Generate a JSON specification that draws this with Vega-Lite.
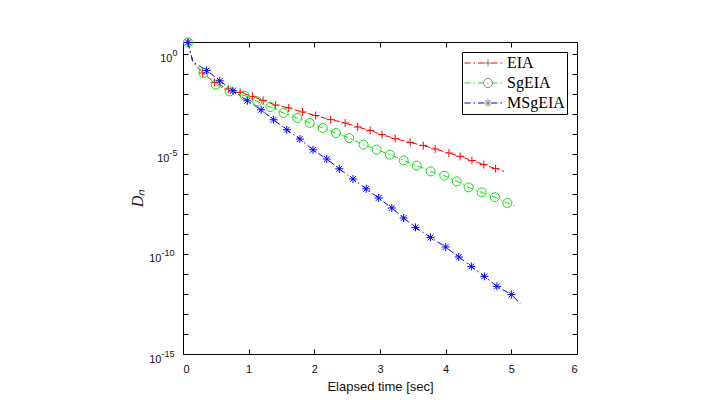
{
  "$schema": "https://vega.github.io/schema/vega-lite/v6.json",
  "width": 394,
  "height": 312,
  "autosize": {"type": "none"},
  "padding": {"left": 183, "top": 42, "right": 140, "bottom": 46},
  "background": "white",
  "config": {
    "view": {"stroke": "black", "strokeWidth": 1},
    "axis": {
      "domain": false,
      "ticks": false,
      "labelColor": "#111",
      "labelFont": "Liberation Sans",
      "labelFontSize": 11,
      "labelOverlap": false,
      "titleFont": "Liberation Sans",
      "titleFontWeight": "normal",
      "titleFontSize": 13,
      "titleColor": "#111"
    }
  },
  "data": {
    "values": [
      {"s": "EIA", "t": 0.076, "D": 3.8, "m": 1},
      {"s": "EIA", "t": 0.15, "D": 0.398, "m": 0},
      {"s": "EIA", "t": 0.30, "D": 0.112, "m": 1},
      {"s": "EIA", "t": 0.48, "D": 0.038, "m": 1},
      {"s": "EIA", "t": 0.69, "D": 0.0178, "m": 1},
      {"s": "EIA", "t": 0.87, "D": 0.0120, "m": 1},
      {"s": "EIA", "t": 1.06, "D": 0.00759, "m": 1},
      {"s": "EIA", "t": 1.22, "D": 0.00479, "m": 1},
      {"s": "EIA", "t": 1.41, "D": 0.00282, "m": 1},
      {"s": "EIA", "t": 1.61, "D": 0.00200, "m": 1},
      {"s": "EIA", "t": 1.82, "D": 0.00126, "m": 1},
      {"s": "EIA", "t": 2.02, "D": 8.32e-4, "m": 1},
      {"s": "EIA", "t": 2.25, "D": 5.25e-4, "m": 1},
      {"s": "EIA", "t": 2.47, "D": 3.55e-4, "m": 1},
      {"s": "EIA", "t": 2.66, "D": 2.24e-4, "m": 1},
      {"s": "EIA", "t": 2.85, "D": 1.51e-4, "m": 1},
      {"s": "EIA", "t": 3.03, "D": 9.33e-5, "m": 1},
      {"s": "EIA", "t": 3.23, "D": 5.89e-5, "m": 1},
      {"s": "EIA", "t": 3.46, "D": 3.80e-5, "m": 1},
      {"s": "EIA", "t": 3.66, "D": 2.63e-5, "m": 1},
      {"s": "EIA", "t": 3.84, "D": 1.78e-5, "m": 1},
      {"s": "EIA", "t": 4.05, "D": 1.12e-5, "m": 1},
      {"s": "EIA", "t": 4.22, "D": 7.59e-6, "m": 1},
      {"s": "EIA", "t": 4.40, "D": 4.68e-6, "m": 1},
      {"s": "EIA", "t": 4.58, "D": 2.95e-6, "m": 1},
      {"s": "EIA", "t": 4.76, "D": 1.86e-6, "m": 1},
      {"s": "EIA", "t": 4.89, "D": 1.35e-6, "m": 0},
      {"s": "SgEIA", "t": 0.076, "D": 3.8, "m": 1},
      {"s": "SgEIA", "t": 0.15, "D": 0.398, "m": 0},
      {"s": "SgEIA", "t": 0.31, "D": 0.112, "m": 1},
      {"s": "SgEIA", "t": 0.50, "D": 0.0295, "m": 1},
      {"s": "SgEIA", "t": 0.71, "D": 0.0135, "m": 1},
      {"s": "SgEIA", "t": 0.94, "D": 0.00832, "m": 1},
      {"s": "SgEIA", "t": 1.13, "D": 0.00427, "m": 1},
      {"s": "SgEIA", "t": 1.33, "D": 0.00224, "m": 1},
      {"s": "SgEIA", "t": 1.53, "D": 0.00112, "m": 1},
      {"s": "SgEIA", "t": 1.74, "D": 6.31e-4, "m": 1},
      {"s": "SgEIA", "t": 1.93, "D": 3.55e-4, "m": 1},
      {"s": "SgEIA", "t": 2.13, "D": 2.00e-4, "m": 1},
      {"s": "SgEIA", "t": 2.33, "D": 1.12e-4, "m": 1},
      {"s": "SgEIA", "t": 2.53, "D": 6.31e-5, "m": 1},
      {"s": "SgEIA", "t": 2.75, "D": 2.95e-5, "m": 1},
      {"s": "SgEIA", "t": 2.95, "D": 1.66e-5, "m": 1},
      {"s": "SgEIA", "t": 3.15, "D": 9.33e-6, "m": 1},
      {"s": "SgEIA", "t": 3.36, "D": 4.79e-6, "m": 1},
      {"s": "SgEIA", "t": 3.56, "D": 2.63e-6, "m": 1},
      {"s": "SgEIA", "t": 3.77, "D": 1.35e-6, "m": 1},
      {"s": "SgEIA", "t": 3.98, "D": 8.32e-7, "m": 1},
      {"s": "SgEIA", "t": 4.17, "D": 4.27e-7, "m": 1},
      {"s": "SgEIA", "t": 4.35, "D": 2.14e-7, "m": 1},
      {"s": "SgEIA", "t": 4.55, "D": 1.20e-7, "m": 1},
      {"s": "SgEIA", "t": 4.75, "D": 6.92e-8, "m": 1},
      {"s": "SgEIA", "t": 4.94, "D": 3.55e-8, "m": 1},
      {"s": "SgEIA", "t": 5.04, "D": 2.63e-8, "m": 0},
      {"s": "MSgEIA", "t": 0.076, "D": 3.8, "m": 1},
      {"s": "MSgEIA", "t": 0.15, "D": 0.398, "m": 0},
      {"s": "MSgEIA", "t": 0.36, "D": 0.151, "m": 1},
      {"s": "MSgEIA", "t": 0.56, "D": 0.0457, "m": 1},
      {"s": "MSgEIA", "t": 0.76, "D": 0.0145, "m": 1},
      {"s": "MSgEIA", "t": 0.98, "D": 0.00457, "m": 1},
      {"s": "MSgEIA", "t": 1.19, "D": 0.00162, "m": 1},
      {"s": "MSgEIA", "t": 1.38, "D": 5.13e-4, "m": 1},
      {"s": "MSgEIA", "t": 1.58, "D": 1.62e-4, "m": 1},
      {"s": "MSgEIA", "t": 1.78, "D": 5.62e-5, "m": 1},
      {"s": "MSgEIA", "t": 1.98, "D": 1.62e-5, "m": 1},
      {"s": "MSgEIA", "t": 2.19, "D": 5.62e-6, "m": 1},
      {"s": "MSgEIA", "t": 2.38, "D": 1.82e-6, "m": 1},
      {"s": "MSgEIA", "t": 2.59, "D": 5.62e-7, "m": 1},
      {"s": "MSgEIA", "t": 2.79, "D": 1.82e-7, "m": 1},
      {"s": "MSgEIA", "t": 2.98, "D": 6.31e-8, "m": 1},
      {"s": "MSgEIA", "t": 3.18, "D": 2.00e-8, "m": 1},
      {"s": "MSgEIA", "t": 3.36, "D": 6.31e-9, "m": 1},
      {"s": "MSgEIA", "t": 3.54, "D": 2.14e-9, "m": 1},
      {"s": "MSgEIA", "t": 3.77, "D": 6.76e-10, "m": 1},
      {"s": "MSgEIA", "t": 4.00, "D": 2.24e-10, "m": 1},
      {"s": "MSgEIA", "t": 4.20, "D": 7.08e-11, "m": 1},
      {"s": "MSgEIA", "t": 4.39, "D": 2.40e-11, "m": 1},
      {"s": "MSgEIA", "t": 4.59, "D": 7.59e-12, "m": 1},
      {"s": "MSgEIA", "t": 4.78, "D": 2.40e-12, "m": 1},
      {"s": "MSgEIA", "t": 5.00, "D": 9.33e-13, "m": 1},
      {"s": "MSgEIA", "t": 5.14, "D": 3.16e-13, "m": 0}
    ]
  },
  "layer": [
    {
      "mark": {"type": "line", "strokeDash": [6, 3, 1.5, 3], "strokeWidth": 1},
      "encoding": {
        "x": {
          "field": "t",
          "type": "quantitative",
          "scale": {"domain": [0, 6], "nice": false, "zero": false},
          "axis": {
            "orient": "bottom",
            "values": [0, 1, 2, 3, 4, 5, 6],
            "grid": true,
            "gridColor": "black",
            "gridOpacity": 1,
            "gridWidth": 1,
            "gridDash": [5, 302, 5],
            "labelPadding": 9,
            "title": "Elapsed time [sec]",
            "titlePadding": 6
          }
        },
        "y": {
          "field": "D",
          "type": "quantitative",
          "scale": {"type": "log", "domain": [1e-15, 3.98], "nice": false},
          "axis": {
            "orient": "left",
            "values": [1, 0.1, 0.01, 1e-3, 1e-4, 1e-5, 1e-6, 1e-7, 1e-8, 1e-9, 1e-10, 1e-11, 1e-12, 1e-13, 1e-14, 1e-15],
            "grid": true,
            "gridColor": "black",
            "gridOpacity": 1,
            "gridWidth": 1,
            "gridDash": [5, 384, 5],
            "labelExpr": "round(log(datum.value)/LN10) % 5 == 0 ? '10' : ''",
            "labelPadding": {
              "condition": [
                {"test": "datum.value > 0.5", "value": 11},
                {"test": "datum.value > 1e-7", "value": 14}
              ],
              "value": 22
            },
            "labelOffset": 5,
            "title": "Dₙ",
            "titleFont": "Liberation Serif",
            "titleFontStyle": "italic",
            "titleFontSize": 16,
            "titlePadding": 3
          }
        },
        "color": {
          "field": "s",
          "type": "nominal",
          "scale": {"domain": ["EIA", "SgEIA", "MSgEIA"], "range": ["#ff0000", "#10e010", "#0000ff"]},
          "legend": {
            "title": null,
            "orient": "none",
            "legendX": 279,
            "legendY": 10,
            "strokeColor": "black",
            "fillColor": "white",
            "padding": 2,
            "symbolType": "stroke",
            "symbolSize": 1600,
            "symbolStrokeWidth": 1,
            "symbolDash": [6, 3, 1.5, 3],
            "clipHeight": 18,
            "rowPadding": 2,
            "labelFont": "Liberation Serif",
            "labelFontSize": 16,
            "labelColor": "black",
            "labelOffset": 2
          }
        },
        "order": {"field": "t", "type": "quantitative"}
      }
    },
    {
      "transform": [{"filter": "datum.m == 1"}],
      "mark": {"type": "point", "filled": false, "size": 64, "strokeWidth": 1, "opacity": 1},
      "encoding": {
        "x": {"field": "t", "type": "quantitative", "axis": null},
        "y": {
          "field": "D",
          "type": "quantitative",
          "axis": {
            "orient": "left",
            "values": [1, 1e-5, 1e-10, 1e-15],
            "grid": false,
            "labelFontSize": 9,
            "labelExpr": "round(log(datum.value)/LN10) == 0 ? '0' : '' + round(log(datum.value)/LN10)",
            "labelPadding": {
              "condition": {"test": "datum.value > 1e-7", "value": 6},
              "value": 9
            },
            "labelOffset": -1,
            "title": null
          }
        },
        "color": {"field": "s", "type": "nominal"},
        "shape": {
          "field": "s",
          "type": "nominal",
          "sort": ["EIA", "SgEIA", "MSgEIA"],
          "scale": {
            "range": [
              "M-1,0L1,0M0,-1L0,1",
              "M1.125,0A1.125,1.125 0 1,1 -1.125,0A1.125,1.125 0 1,1 1.125,0Z",
              "M-1,0L1,0M0,-1L0,1M-0.72,-0.72L0.72,0.72M-0.72,0.72L0.72,-0.72"
            ]
          },
          "legend": {
            "title": null,
            "orient": "none",
            "legendX": 279,
            "legendY": 10,
            "padding": 2,
            "symbolSize": 64,
            "symbolOffset": 16,
            "symbolStrokeWidth": 1,
            "clipHeight": 18,
            "rowPadding": 2,
            "labelExpr": "''",
            "labelFontSize": 16,
            "labelOffset": 34,
            "encode": {
              "symbols": {
                "update": {
                  "stroke": {"scale": "color", "field": "value"},
                  "fill": {"value": "transparent"},
                  "opacity": {"value": 1}
                }
              }
            }
          }
        }
      }
    }
  ],
  "resolve": {"axis": {"x": "independent", "y": "independent"}}
}
